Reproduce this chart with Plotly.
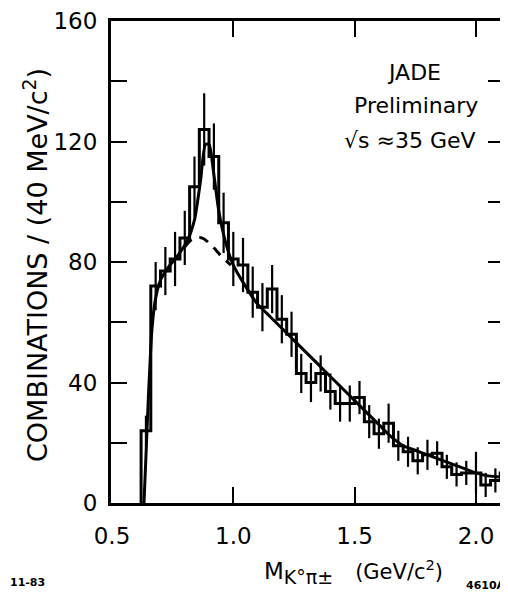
import plotly.graph_objects as go

# ---- data ----
bin_centers = [0.64, 0.68, 0.72, 0.76, 0.80, 0.84, 0.88, 0.92, 0.96, 1.00,
               1.04, 1.08, 1.12, 1.16, 1.20, 1.24, 1.28, 1.32, 1.36, 1.40,
               1.44, 1.48, 1.52, 1.56, 1.60, 1.64, 1.68, 1.72, 1.76, 1.80,
               1.84, 1.88, 1.92, 1.96, 2.00, 2.04, 2.08, 2.12]
counts = [24, 72, 77, 81, 88, 105, 124, 115, 93, 81,
          79, 70, 65, 71, 61, 56, 43, 40, 43, 37,
          33, 33, 35, 27, 23, 26.5, 19, 17, 14, 16,
          16.5, 12, 9.5, 10, 10, 6, 7.5, 10]
errors = [5, 8, 8, 9, 9, 10, 12, 11, 10, 9,
          9, 8.5, 8, 8, 8, 7.5, 6.5, 6.5, 6, 6,
          6, 6, 5.5, 5.5, 5, 6.5, 5, 5, 4.5, 5,
          4, 4, 4, 4, 7, 4, 4, 4]
bin_half_width = 0.02

fit_x = [0.632, 0.65, 0.665, 0.68, 0.70, 0.73, 0.77, 0.81, 0.84, 0.865,
         0.885, 0.90, 0.92, 0.94, 0.97, 1.00, 1.05, 1.10, 1.15, 1.20,
         1.25, 1.30, 1.35, 1.40, 1.45, 1.50, 1.55, 1.60, 1.65, 1.70,
         1.75, 1.80, 1.85, 1.90, 1.95, 2.00, 2.05, 2.10, 2.14]
fit_y = [0, 35, 58, 68, 74, 78, 82, 87, 94, 107,
         119, 119, 109, 97, 86, 79, 72, 66, 62, 58,
         54, 50, 46, 42, 38, 34, 30, 26, 22, 19,
         17.5, 16, 14.5, 13, 11.5, 10, 9, 8.8, 10]

bkg_x = [0.80, 0.83, 0.87, 0.91, 0.95, 0.99]
bkg_y = [85, 87.5, 88, 85.5, 82, 79]

y_tick_vals = [0, 20, 40, 60, 80, 100, 120, 140, 160]
y_tick_text = ["0", "", "40", "", "80", "", "120", "", "160"]
x_tick_vals = [0.5, 1.0, 1.5, 2.0]
x_tick_text = ["0.5", "1.0", "1.5", "2.0"]

# ---- build step outline from the bins ----
edges = [c - bin_half_width for c in bin_centers] + [bin_centers[-1] + bin_half_width]
step_x = [edges[0]] + edges
step_y = [0] + counts + [counts[-1]]

FONT = "DejaVu Sans, Liberation Sans, sans-serif"

# the page body has an 8px default margin, so the figure is 8px smaller
W, H = 500, 584
L, R, T, B = 103, 0, 13, 89
PW, PH = W - L - R, H - T - B


def px(xp):  # page pixel -> paper
    return (xp - 8 - L) / PW


def py(yp):
    return (H - B - (yp - 8)) / PH


fig = go.Figure()
fig.add_trace(go.Scatter(x=step_x, y=step_y, mode="lines",
                         line=dict(color="black", width=3, shape="hv"),
                         hoverinfo="skip", showlegend=False))
fig.add_trace(go.Scatter(x=bin_centers, y=counts, mode="markers",
                         marker=dict(size=1, color="black"),
                         error_y=dict(type="data", array=errors, width=0,
                                      thickness=2.2, color="black"),
                         showlegend=False))
fig.add_trace(go.Scatter(x=fit_x, y=fit_y, mode="lines",
                         line=dict(color="black", width=3, shape="spline", smoothing=0.6),
                         showlegend=False))
fig.add_trace(go.Scatter(x=bkg_x, y=bkg_y, mode="lines",
                         line=dict(color="black", width=3, dash="10px,8px", shape="spline"),
                         showlegend=False))
fig.add_trace(go.Scatter(x=[None], y=[None], yaxis="y2", showlegend=False))

fig.update_layout(
    width=W, height=H,
    margin=dict(l=L, r=R, t=T, b=B),
    paper_bgcolor="white", plot_bgcolor="white",
    font=dict(family=FONT, color="black", size=23),
    xaxis=dict(range=[0.496, 2.132], tickvals=x_tick_vals, ticktext=x_tick_text,
               ticks="inside", ticklen=16, tickwidth=2, tickcolor="black",
               showline=True, linewidth=3, linecolor="black", mirror="ticks",
               showgrid=False, zeroline=False, ticklabelstandoff=10,
               tickfont=dict(size=23), automargin=False),
    yaxis=dict(range=[0, 160], tickvals=y_tick_vals, ticktext=y_tick_text,
               ticks="inside", ticklen=16, tickwidth=2, tickcolor="black",
               showline=True, linewidth=3, linecolor="black", mirror=False,
               showgrid=False, zeroline=False, ticklabelstandoff=6,
               tickfont=dict(size=23), automargin=False),
    yaxis2=dict(range=[0, 160], overlaying="y", side="right",
                tickvals=y_tick_vals, showticklabels=False,
                ticks="inside", ticklen=20, tickwidth=2, tickcolor="black",
                showline=False, showgrid=False, zeroline=False, automargin=False),
    annotations=[
        dict(text="COMBINATIONS / (40 MeV/c<sup>2</sup>)", textangle=-90,
             xref="paper", yref="paper", x=px(35), y=py(265),
             xanchor="center", yanchor="middle", showarrow=False,
             font=dict(size=27)),
        dict(text="M<sub><span style='font-size:19px'>K°π±</span></sub>"
                  "\u00a0\u00a0\u00a0"
                  "<span style='font-size:21px'>(GeV/c<sup>2</sup>)</span>",
             xref="paper", yref="paper", x=px(353), y=py(572),
             xanchor="center", yanchor="middle", showarrow=False,
             font=dict(size=23)),
        dict(text="JADE", xref="paper", yref="paper", x=px(414), y=py(73),
             xanchor="center", yanchor="middle", showarrow=False, font=dict(size=22)),
        dict(text="Preliminary", xref="paper", yref="paper", x=px(416), y=py(105),
             xanchor="center", yanchor="middle", showarrow=False, font=dict(size=22)),
        dict(text="√s ≈35 GeV", xref="paper", yref="paper", x=px(410), y=py(140),
             xanchor="center", yanchor="middle", showarrow=False, font=dict(size=22)),
        dict(text="<b>11-83</b>", xref="paper", yref="paper", x=px(8), y=py(582),
             xanchor="left", yanchor="middle", showarrow=False, font=dict(size=11)),
        dict(text="<b>4610A48</b>", xref="paper", yref="paper", x=px(464), y=py(585),
             xanchor="left", yanchor="middle", showarrow=False, font=dict(size=11)),
    ],
)

fig.write_html("out.html")
